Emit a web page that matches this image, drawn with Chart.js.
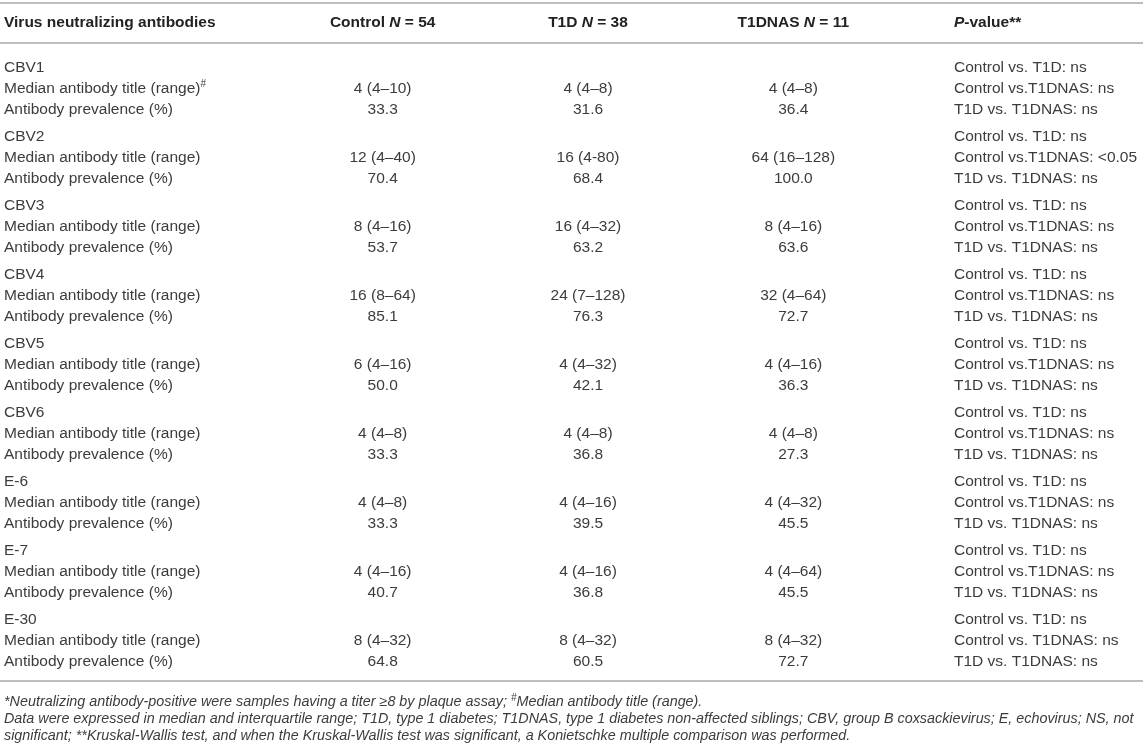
<!DOCTYPE html>
<html>
<head>
<meta charset="utf-8">
<script src="https://cdn.jsdelivr.net/npm/chart.js@4"></script>
<style>
  body { margin: 0; background: #fff; }
  #wrap { position: relative; width: 1143px; height: 752px; }
</style>
</head>
<body>
<div id="wrap"><canvas id="tabela"></canvas></div>
<script>
const colunas = ['Control', 'T1D', 'T1DNAS'];
const cabecalhoN = [54, 38, 11];
const virus = ['CBV1', 'CBV2', 'CBV3', 'CBV4', 'CBV5', 'CBV6', 'E-6', 'E-7', 'E-30'];

const controlMediana = ['4 (4–10)', '12 (4–40)', '8 (4–16)', '16 (8–64)', '6 (4–16)', '4 (4–8)', '4 (4–8)', '4 (4–16)', '8 (4–32)'];
const controlPrev = [33.3, 70.4, 53.7, 85.1, 50.0, 33.3, 33.3, 40.7, 64.8];
const t1dMediana = ['4 (4–8)', '16 (4-80)', '16 (4–32)', '24 (7–128)', '4 (4–32)', '4 (4–8)', '4 (4–16)', '4 (4–16)', '8 (4–32)'];
const t1dPrev = [31.6, 68.4, 63.2, 76.3, 42.1, 36.8, 39.5, 36.8, 60.5];
const t1dnasMediana = ['4 (4–8)', '64 (16–128)', '8 (4–16)', '32 (4–64)', '4 (4–16)', '4 (4–8)', '4 (4–32)', '4 (4–64)', '8 (4–32)'];
const t1dnasPrev = [36.4, 100.0, 63.6, 72.7, 36.3, 27.3, 45.5, 45.5, 72.7];

const pControlT1D = ['ns', 'ns', 'ns', 'ns', 'ns', 'ns', 'ns', 'ns', 'ns'];
const pControlT1DNAS = ['ns', '<0.05', 'ns', 'ns', 'ns', 'ns', 'ns', 'ns', 'ns'];
const pT1DT1DNAS = ['ns', 'ns', 'ns', 'ns', 'ns', 'ns', 'ns', 'ns', 'ns'];

const rotuloMediana = 'Median antibody title (range)';
const rotuloPrev = 'Antibody prevalence (%)';

const FONTE = '"Liberation Sans", Arial, Helvetica, sans-serif';
const COR = '#3c3c3c';
const COR_CAB = '#222';
const COR_LINHA = '#a8a8a8';

// posição vertical de cada linha da tabela (grupo de 3 linhas + respiro)
function linhaY(grupo, linha) {
  return grupo * 3.29 + linha;
}

function pontos(coluna) {
  const d = [];
  virus.forEach(function (v, g) {
    d.push({ x: coluna, y: linhaY(g, 1) });
    d.push({ x: coluna, y: linhaY(g, 2) });
  });
  return d;
}

function textos(medianas, prevs) {
  const t = [];
  medianas.forEach(function (m, g) {
    t.push(m);
    t.push(prevs[g].toFixed(1));
  });
  return t;
}

function desenhaRico(ctx, partes, x, y, alinhar) {
  let total = 0;
  partes.forEach(function (p) {
    ctx.font = p.font;
    p.w = ctx.measureText(p.t).width;
    total += p.w;
  });
  let cx = x;
  if (alinhar === 'center') cx = x - total / 2;
  ctx.textAlign = 'left';
  partes.forEach(function (p) {
    ctx.font = p.font;
    ctx.fillText(p.t, cx, y + (p.dy || 0));
    cx += p.w;
  });
}

function linhaH(ctx, y, largura) {
  ctx.save();
  ctx.strokeStyle = COR_LINHA;
  ctx.lineWidth = 1.5;
  ctx.beginPath();
  ctx.moveTo(0, y);
  ctx.lineTo(largura, y);
  ctx.stroke();
  ctx.restore();
}

const pluginTabela = {
  id: 'tabela',
  afterDatasetsDraw(chart) {
    const ctx = chart.ctx;
    const area = chart.chartArea;
    const yS = chart.scales.y;
    const xS = chart.scales.x;
    const xRotulo = area.left - 276;
    const xP = area.right + 58;
    const normal = '15.5px ' + FONTE;
    const negrito = 'bold 15.5px ' + FONTE;
    const negritoIt = 'italic bold 15.5px ' + FONTE;

    ctx.save();
    ctx.textBaseline = 'middle';

    // linhas horizontais
    linhaH(ctx, area.top - 65, chart.width);
    linhaH(ctx, area.top - 25, chart.width);
    linhaH(ctx, area.bottom + 19, chart.width);

    // cabeçalho
    ctx.fillStyle = COR_CAB;
    const yCab = area.top - 45;
    desenhaRico(ctx, [{ t: 'Virus neutralizing antibodies', font: negrito }], xRotulo, yCab, 'left');
    colunas.forEach(function (c, i) {
      desenhaRico(ctx, [
        { t: c + ' ', font: negrito },
        { t: 'N', font: negritoIt },
        { t: ' = ' + cabecalhoN[i], font: negrito }
      ], xS.getPixelForValue(i), yCab, 'center');
    });
    desenhaRico(ctx, [{ t: 'P', font: negritoIt }, { t: '-value**', font: negrito }], xP, yCab, 'left');

    // coluna de rótulos e coluna de P-valor
    ctx.fillStyle = COR;
    virus.forEach(function (v, g) {
      const y0 = yS.getPixelForValue(linhaY(g, 0));
      const y1 = yS.getPixelForValue(linhaY(g, 1));
      const y2 = yS.getPixelForValue(linhaY(g, 2));
      desenhaRico(ctx, [{ t: v, font: normal }], xRotulo, y0, 'left');
      const med = [{ t: rotuloMediana, font: normal }];
      if (g === 0) med.push({ t: '#', font: '10px ' + FONTE, dy: -5 });
      desenhaRico(ctx, med, xRotulo, y1, 'left');
      desenhaRico(ctx, [{ t: rotuloPrev, font: normal }], xRotulo, y2, 'left');

      const sep = g === virus.length - 1 ? 'Control vs. T1DNAS: ' : 'Control vs.T1DNAS: ';
      desenhaRico(ctx, [{ t: 'Control vs. T1D: ' + pControlT1D[g], font: normal }], xP, y0, 'left');
      desenhaRico(ctx, [{ t: sep + pControlT1DNAS[g], font: normal }], xP, y1, 'left');
      desenhaRico(ctx, [{ t: 'T1D vs. T1DNAS: ' + pT1DT1DNAS[g], font: normal }], xP, y2, 'left');
    });

    // células numéricas: posição dada pelos pontos dos datasets
    chart.data.datasets.forEach(function (ds, i) {
      const meta = chart.getDatasetMeta(i);
      meta.data.forEach(function (el, j) {
        desenhaRico(ctx, [{ t: ds.textos[j], font: normal }], el.x, el.y, 'center');
      });
    });

    // notas de rodapé
    const linha2 = 'Data were expressed in median and interquartile range; T1D, type 1 diabetes; T1DNAS, type 1 diabetes non-affected siblings; CBV, group B coxsackievirus; E, echovirus; NS, not';
    ctx.font = 'italic 13px ' + FONTE;
    const tam = 13 * 1130 / ctx.measureText(linha2).width;
    const it = 'italic ' + tam.toFixed(2) + 'px ' + FONTE;
    const itSup = 'italic ' + (tam * 0.7).toFixed(2) + 'px ' + FONTE;
    const yR = area.bottom + 40;
    desenhaRico(ctx, [
      { t: '*Neutralizing antibody-positive were samples having a titer ≥8 by plaque assay; ', font: it },
      { t: '#', font: itSup, dy: -4 },
      { t: 'Median antibody title (range).', font: it }
    ], xRotulo, yR, 'left');
    desenhaRico(ctx, [{ t: linha2, font: it }], xRotulo, yR + 17, 'left');
    desenhaRico(ctx, [{ t: 'significant; **Kruskal-Wallis test, and when the Kruskal-Wallis test was significant, a Konietschke multiple comparison was performed.', font: it }], xRotulo, yR + 34, 'left');
    ctx.restore();
  }
};

new Chart(document.getElementById('tabela'), {
  type: 'line',
  data: {
    labels: colunas,
    datasets: [
      { label: 'Control', data: pontos('Control'), textos: textos(controlMediana, controlPrev) },
      { label: 'T1D', data: pontos('T1D'), textos: textos(t1dMediana, t1dPrev) },
      { label: 'T1DNAS', data: pontos('T1DNAS'), textos: textos(t1dnasMediana, t1dnasPrev) }
    ]
  },
  options: {
    responsive: true,
    maintainAspectRatio: false,
    animation: false,
    events: [],
    showLine: false,
    elements: { point: { radius: 0 } },
    layout: { padding: { left: 280, right: 247, top: 68, bottom: 90 } },
    plugins: { legend: { display: false }, tooltip: { enabled: false } },
    scales: {
      x: { type: 'category', offset: true, display: false },
      y: { type: 'linear', reverse: true, min: 0, max: linhaY(virus.length - 1, 2), display: false }
    }
  },
  plugins: [pluginTabela]
});
</script>
</body>
</html>
